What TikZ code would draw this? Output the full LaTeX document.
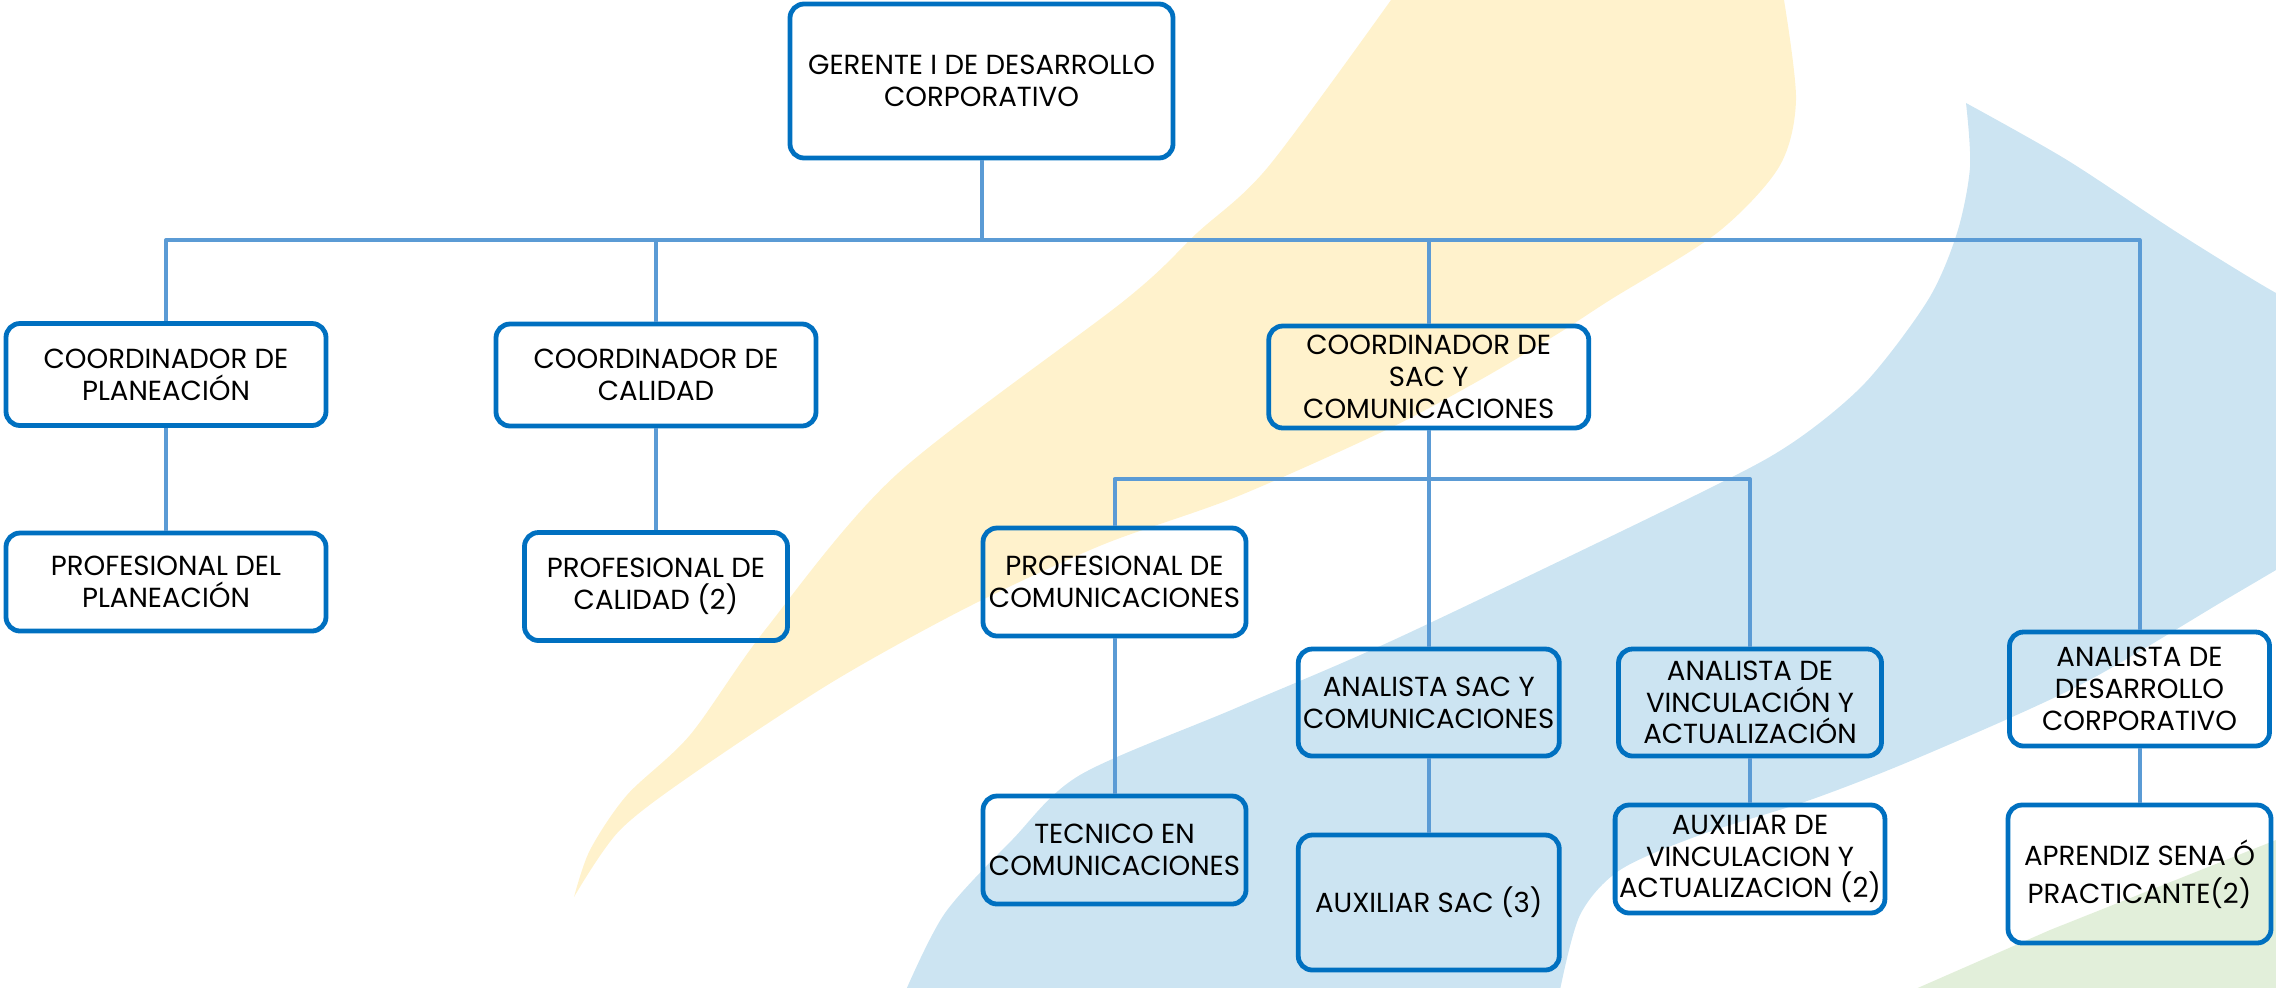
\documentclass[tikz,border=0pt]{standalone}
\usepackage{fontspec}
\setmainfont{Poppins}

\definecolor{boxblue}{RGB}{0,112,192}
\definecolor{linkblue}{RGB}{91,155,213}
\definecolor{swyellow}{RGB}{255,242,204}
\definecolor{swblue}{RGB}{204,228,242}
\definecolor{swgreen}{RGB}{226,239,218}

\begin{document}
\begin{tikzpicture}[x=0.5pt,y=-0.5pt,line join=round]
  \tikzset{box/.style={draw=boxblue,line width=2.4pt,rounded corners=7pt,align=center,
      inner sep=2pt,font=\fontsize{13.8}{15.85}\selectfont},
    wide/.style={box,minimum width=160pt,minimum height=51pt},
    mid/.style={box,minimum width=131.5pt,minimum height=54pt},
    link/.style={draw=linkblue,line width=2pt}}
  \useasboundingbox (0,0) rectangle (2276,987);
  % background swooshes
  \begin{scope}
    \clip (0,0) rectangle (2276,987);
    \fill[swyellow] plot[smooth] coordinates {(1391,0) (1268,167) (1197,233) (1125,300)
      (896,475) (765,630) (690,735) (627,795) (590,850) (574,897)}
      -- plot[smooth] coordinates {(574,897) (620,830) (700,769) (834,681) (968,607)
      (1102,545) (1236,497) (1386,430) (1480,380) (1559,333) (1610,300) (1717,233)
      (1779,167) (1796,100) (1784,0)} -- cycle;
    \fill[swblue] plot[smooth] coordinates {(1966,103) (2067,160) (2178,233) (2276,293) (2300,300)}
      -- (2300,560) -- plot[smooth] coordinates {(2276,570) (2225,600) (2080,685) (1920,757)
      (1810,800) (1700,835) (1620,870) (1580,915) (1560,990)}
      -- plot[smooth] coordinates {(906,990) (945,913) (1012,840) (1080,775) (1236,708)
      (1400,637) (1700,493) (1792,443) (1865,383) (1928,300) (1957,233) (1970,167) (1966,103)};
    \fill[swgreen] (1913,990) -- (2050,930) -- (2276,840) -- (2300,835) -- (2300,990) -- cycle;
  \end{scope}

  \node[box,minimum width=191.5pt,minimum height=77pt] (ger) at (981.5,81) {GERENTE I DE DESARROLLO\\CORPORATIVO};
  \node[wide] (cpl) at (166,374.5) {COORDINADOR DE\\PLANEACIÓN};
  \node[wide] (cca) at (656,375) {COORDINADOR DE\\CALIDAD};
  \node[wide,minimum height=51pt] (csa) at (1428.75,377) {COORDINADOR DE\\SAC Y\\COMUNICACIONES};
  \node[wide,minimum height=49pt] (ppl) at (166,582) {PROFESIONAL DEL\\PLANEACIÓN};
  \node[mid] (pca) at (656,586.5) {PROFESIONAL DE\\CALIDAD (2)};
  \node[mid] (pco) at (1114.5,582) {PROFESIONAL DE\\COMUNICACIONES};
  \node[mid] (tco) at (1114.5,850) {TECNICO EN\\COMUNICACIONES};
  \node[mid,minimum width=130.5pt,minimum height=53.5pt] (asa) at (1428.75,702.5) {ANALISTA SAC Y\\COMUNICACIONES};
  \node[mid,minimum width=130.5pt,minimum height=67.5pt] (axs) at (1428.75,902.5) {AUXILIAR SAC (3)};
  \node[mid,minimum height=53.5pt] (avi) at (1750,702.5) {ANALISTA DE\\VINCULACIÓN Y\\ACTUALIZACIÓN};
  \node[mid] (xvi) at (1750,859) {AUXILIAR DE\\VINCULACION Y\\ACTUALIZACION (2)};
  \node[mid,minimum width=130pt,minimum height=57pt] (ade) at (2139.5,689) {ANALISTA DE\\DESARROLLO\\CORPORATIVO};
  \node[mid,minimum height=69pt] (apr) at (2139.5,874) {APRENDIZ SENA Ó\\[3pt]PRACTICANTE(2)};

  \coordinate (bus) at (981.5,240);
  \coordinate (sacbus) at (1428.75,479);
  \draw[link] (ger) -- (bus);
  \draw[link] (bus) -| (cpl);
  \draw[link] (bus) -| (cca);
  \draw[link] (bus) -| (csa);
  \draw[link] (bus) -| (ade);
  \draw[link] (cpl) -- (ppl);
  \draw[link] (cca) -- (pca);
  \draw[link] (csa) -- (asa);
  \draw[link] (sacbus) -| (pco);
  \draw[link] (sacbus) -| (avi);
  \draw[link] (pco) -- (tco);
  \draw[link] (asa) -- (axs);
  \draw[link] (avi) -- (xvi);
  \draw[link] (ade) -- (apr);
\end{tikzpicture}
\end{document}
